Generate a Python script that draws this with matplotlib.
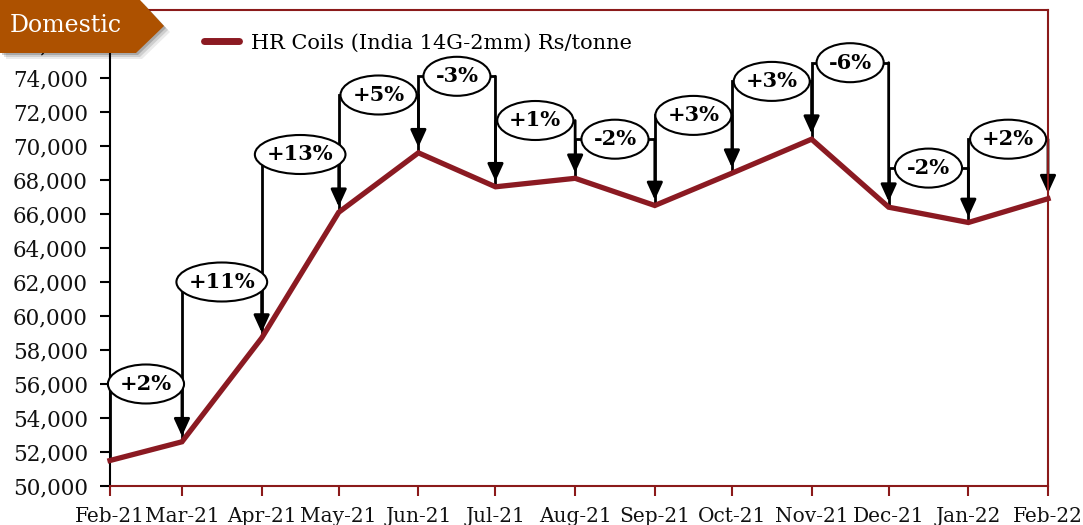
import matplotlib
matplotlib.use("Agg")
import matplotlib.pyplot as plt
import matplotlib.dates as mdates
from matplotlib.patches import Polygon, Ellipse
import pandas as pd

months = ["Feb-21", "Mar-21", "Apr-21", "May-21", "Jun-21", "Jul-21", "Aug-21",
          "Sep-21", "Oct-21", "Nov-21", "Dec-21", "Jan-22", "Feb-22"]
prices = [51500, 52600, 58700, 66100, 69600, 67600, 68100,
          66500, 68400, 70400, 66400, 65500, 66900]
changes = ["+2%", "+11%", "+13%", "+5%", "-3%", "+1%", "-2%",
           "+3%", "+3%", "-6%", "-2%", "+2%"]
label_levels = [56000, 62000, 69500, 73000, 74100, 71500, 70400,
                71800, 73800, 74900, 68700, 70400]
yticks = list(range(50000, 76001, 2000))
series_name = "HR Coils (India 14G-2mm) Rs/tonne"
section_title = "Domestic"

LINE_RED = "#8B1A22"
BORDER_RED = "#8B1A1A"
TAB_ORANGE = "#AD5100"
FONT = "DejaVu Serif"

dates = pd.to_datetime(["2021-%02d-01" % m for m in range(2, 13)] +
                       ["2022-01-01", "2022-02-01"])
xs = mdates.date2num(dates)

fig = plt.figure(figsize=(10.83, 5.25), dpi=100)
ax = fig.add_axes([110/1083, 1-486/525, (1048-110)/1083, (486-10)/525])

ax.set_xlim(xs[0], xs[-1])
ax.set_ylim(50000, 78000)

texts = []
for i, (lab, yc) in enumerate(zip(changes, label_levels)):
    x0, x1 = xs[i], xs[i + 1]
    y0, y1 = prices[i], prices[i + 1]
    ax.plot([x0, x0, x1], [y0, yc, yc], color="black", lw=2, zorder=2,
            solid_capstyle="butt", solid_joinstyle="miter", clip_on=False)
    ax.annotate("", xy=(x1, y1), xytext=(x1, yc),
                arrowprops=dict(arrowstyle="-|>,head_length=1.05,head_width=0.48",
                                mutation_scale=10, lw=2, color="black",
                                shrinkA=0, shrinkB=4),
                zorder=2, annotation_clip=False)
    t = ax.text((x0 + x1) / 2, yc, lab, ha="center", va="center",
                fontsize=15, fontweight="bold", family=FONT, zorder=5)
    texts.append(t)

ax.plot(xs, prices, color=LINE_RED, lw=3.8, zorder=3, label=series_name,
        solid_joinstyle="miter", clip_on=False)

ax.set_yticks(yticks)
ax.set_yticklabels([f"{v:,}" for v in yticks], family=FONT, fontsize=15.5)
ax.set_xticks(xs)
ax.set_xticklabels(months, family=FONT, fontsize=14.5)

for s in ["top", "right", "bottom"]:
    ax.spines[s].set_color(BORDER_RED)
    ax.spines[s].set_linewidth(1.5)
ax.spines["left"].set_color("black")
ax.spines["left"].set_linewidth(1.5)
ax.tick_params(axis="y", direction="out", length=7, width=1.5, color="black",
               pad=9, labelcolor="#111111")
ax.tick_params(axis="x", direction="out", length=7, width=1.5, color=BORDER_RED,
               pad=8, labelcolor="#111111")

leg = ax.legend(loc="upper left", bbox_to_anchor=(0.08, 0.99), frameon=False,
                prop=dict(family=FONT, size=15), handlelength=1.7, handletextpad=0.55)
for h in leg.get_lines():
    h.set_linewidth(5)
    h.set_solid_capstyle("round")

# ellipses sized from rendered text
fig.canvas.draw()
renderer = fig.canvas.get_renderer()
ax_bb = ax.get_window_extent(renderer)
days_per_px = (xs[-1] - xs[0]) / ax_bb.width
val_per_px = (78000 - 50000) / ax_bb.height
for t in texts:
    bb = t.get_window_extent(renderer)
    w_px = bb.width + 24
    h_px = 39
    cx, cy = t.get_position()
    ax.add_patch(Ellipse((cx, cy), w_px * days_per_px, h_px * val_per_px,
                         fc="white", ec="black", lw=1.5, zorder=4, clip_on=False))

# section tab
px = [(0, 0), (140, 0), (164, 26), (136, 53), (0, 53)]
def tofig(p, dx=0, dy=0):
    return [((x + dx) / 1083, 1 - (y + dy) / 525) for x, y in p]
for k, a in [(6, 0.08), (4, 0.12), (2, 0.18)]:
    fig.patches.append(Polygon(tofig(px, k, k), closed=True, transform=fig.transFigure,
                               fc="black", ec="none", alpha=a, zorder=9))
fig.patches.append(Polygon(tofig(px), closed=True, transform=fig.transFigure,
                           fc=TAB_ORANGE, ec="none", zorder=10))
fig.text(10 / 1083, 1 - 26 / 525, section_title, family=FONT, fontsize=17,
         color="white", ha="left", va="center", zorder=11)

fig.savefig("out.png", dpi=100)
